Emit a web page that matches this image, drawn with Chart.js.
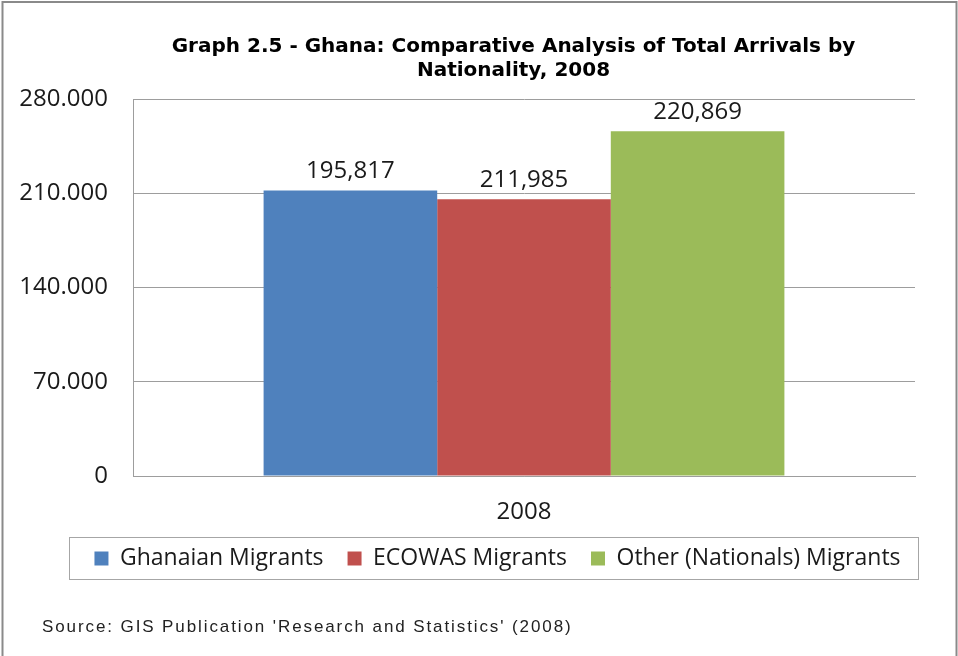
<!DOCTYPE html>
<html><head><meta charset="utf-8">
<script src="https://cdn.jsdelivr.net/npm/chart.js@4"></script>
<style>html,body{margin:0;padding:0;background:#fff}#wrap{width:958px;height:656px}</style>
</head><body><div id="wrap"><canvas id="c" width="958" height="656"></canvas></div>
<script>
const categories = ['2008'];
const seriesNames = ['Ghanaian Migrants', 'ECOWAS Migrants', 'Other (Nationals) Migrants'];
const ghanaianValues = [212000];
const ecowasValues = [205500];
const otherValues = [256000];
const valueLabels = ['195,817', '211,985', '220,869'];
const yTickLabels = ['0', '70.000', '140.000', '210.000', '280.000'];
const titleLines = ['Graph 2.5 - Ghana: Comparative Analysis of Total Arrivals by', 'Nationality, 2008'];
const sourceText = "Source: GIS Publication 'Research and Statistics' (2008)";
const seriesColors = ['#4F81BD', '#C0504D', '#9BBB59'];

const CAL = "'Open Sans', 'Noto Sans', sans-serif";
const GRID = '#9d9d9d';

const pagePlugin = {
  id: 'page',
  beforeDraw(chart) {
    const ctx = chart.ctx;
    ctx.save();
    ctx.fillStyle = '#ffffff';
    ctx.fillRect(0, 0, chart.width, chart.height);
    ctx.restore();
  },
  afterLayout(chart) {
    const lg = chart.legend;
    if (lg) { lg.left += 40; lg.right += 40; }
    const tb = chart.titleBlock;
    if (tb) { tb.left += 56; tb.right += 56; }
  },
  afterDraw(chart) {
    const ctx = chart.ctx;
    ctx.save();
    // outer frame
    ctx.strokeStyle = '#8a8a8a';
    ctx.lineWidth = 2;
    ctx.strokeRect(2.5, 2, 954, 700);
    // legend frame
    const lg = chart.legend;
    if (lg && lg.legendHitBoxes && lg.legendHitBoxes.length) {
      const hb = lg.legendHitBoxes;
      const first = hb[0], last = hb[hb.length - 1];
      const x0 = Math.round(first.left) - 24.5;
      const x1 = Math.round(last.left + last.width) + 17.5;
      ctx.strokeStyle = '#a6a6a6';
      ctx.lineWidth = 1;
      ctx.strokeRect(x0, Math.round(lg.top) + 14.5, x1 - x0, 42);
    }
    // source note
    ctx.fillStyle = '#222222';
    ctx.font = "17px 'Liberation Sans', Arial, sans-serif";
    try { ctx.letterSpacing = '1.9px'; } catch (e) {}
    ctx.textAlign = 'left';
    ctx.textBaseline = 'middle';
    ctx.fillText(sourceText, 42, 627);
    ctx.restore();
  }
};

const valueLabelPlugin = {
  id: 'valueLabels',
  afterDatasetsDraw(chart) {
    const ctx = chart.ctx;
    ctx.save();
    ctx.fillStyle = '#1a1a1a';
    ctx.font = '24px ' + CAL;
    ctx.textAlign = 'center';
    ctx.textBaseline = 'middle';
    chart.data.datasets.forEach((ds, i) => {
      const meta = chart.getDatasetMeta(i);
      meta.data.forEach((bar) => {
        ctx.fillText(valueLabels[i], bar.x, bar.y - 19);
      });
    });
    ctx.restore();
  }
};

new Chart(document.getElementById('c'), {
  type: 'bar',
  data: {
    labels: categories,
    datasets: [
      { label: seriesNames[0], data: ghanaianValues, backgroundColor: seriesColors[0], borderWidth: 0 },
      { label: seriesNames[1], data: ecowasValues, backgroundColor: seriesColors[1], borderWidth: 0 },
      { label: seriesNames[2], data: otherValues, backgroundColor: seriesColors[2], borderWidth: 0 }
    ]
  },
  options: {
    responsive: false,
    animation: false,
    devicePixelRatio: 1,
    layout: { padding: { left: 0, right: 43, top: 0, bottom: 76 } },
    datasets: { bar: { barPercentage: 1, categoryPercentage: 0.666 } },
    scales: {
      x: {
        grid: { display: false, drawTicks: false },
        border: { display: true, color: GRID, width: 1 },
        ticks: { color: '#1a1a1a', font: { family: CAL, size: 24 }, padding: 22 },
        afterFit(scale) { scale.height = 47; }
      },
      y: {
        min: 0, max: 280000,
        ticks: {
          stepSize: 70000, color: '#1a1a1a', padding: 25,
          font: { family: CAL, size: 24 },
          callback: (v, i) => yTickLabels[i]
        },
        grid: { color: GRID, drawTicks: false, lineWidth: 1 },
        border: { display: true, color: GRID, width: 1 },
        afterFit(scale) { scale.width = 133; }
      }
    },
    plugins: {
      title: {
        display: true,
        text: titleLines,
        color: '#000000',
        font: { family: "'DejaVu Sans', sans-serif", size: 20, weight: 'bold', lineHeight: 1.2 },
        padding: { top: 35, bottom: 16 }
      },
      legend: {
        position: 'bottom',
        labels: {
          boxWidth: 14, boxHeight: 14, padding: 24, color: '#1a1a1a',
          font: { family: CAL, size: 23 }
        }
      },
      tooltip: { enabled: false }
    }
  },
  plugins: [pagePlugin, valueLabelPlugin]
});
</script>
</body></html>
